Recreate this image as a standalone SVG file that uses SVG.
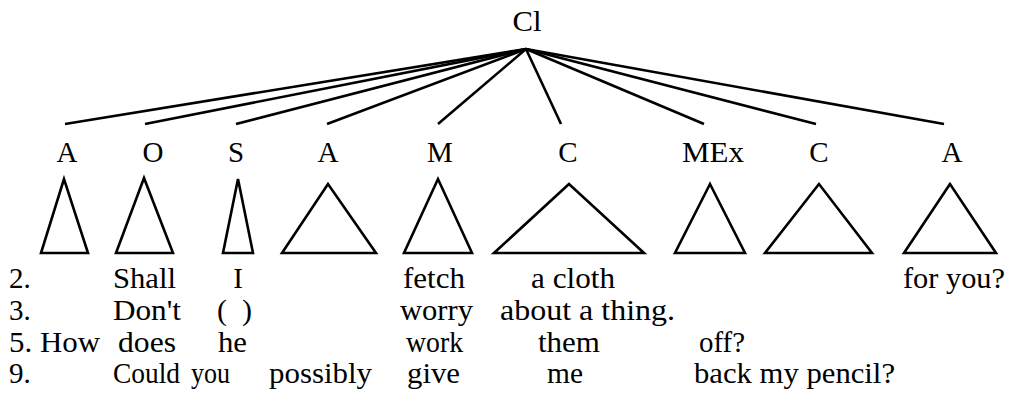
<svg xmlns="http://www.w3.org/2000/svg" width="1012" height="394" viewBox="0 0 1012 394">
<style>
text{font-family:'Liberation Serif','Times New Roman',serif;font-size:29px;fill:#000}
.lbl{text-anchor:middle}
.edge{stroke:#000;stroke-width:2.6;fill:none}
.tri{stroke:#000;stroke-width:2.6;fill:none;stroke-linejoin:miter}
</style>
<rect width="1012" height="394" fill="#fff"/>
<g id="node-Cl"><text class="lbl" x="527" y="31" textLength="29" lengthAdjust="spacingAndGlyphs">Cl</text></g>
<g id="connectors">
<line class="edge" x1="526" y1="49" x2="65" y2="124"/>
<line class="edge" x1="526" y1="49" x2="145" y2="124"/>
<line class="edge" x1="526" y1="49" x2="236" y2="124"/>
<line class="edge" x1="526" y1="49" x2="327" y2="124"/>
<line class="edge" x1="526" y1="49" x2="438" y2="124"/>
<line class="edge" x1="526" y1="49" x2="561" y2="124"/>
<line class="edge" x1="526" y1="49" x2="704" y2="124"/>
<line class="edge" x1="526" y1="49" x2="816" y2="124"/>
<line class="edge" x1="526" y1="49" x2="944" y2="124"/>
</g>
<g id="node-A1"><text class="lbl" x="67" y="162">A</text><polygon class="tri" points="64,179 41,253 88,253"/></g>
<g id="node-O"><text class="lbl" x="153" y="162">O</text><polygon class="tri" points="144,178 116,253 173,253"/></g>
<g id="node-S"><text class="lbl" x="236" y="162">S</text><polygon class="tri" points="238,179 223,253 253,253"/></g>
<g id="node-A2"><text class="lbl" x="328" y="162">A</text><polygon class="tri" points="328,184 282,253 376,253"/></g>
<g id="node-M"><text class="lbl" x="440" y="162">M</text><polygon class="tri" points="438,179 404,253 472,253"/></g>
<g id="node-C1"><text class="lbl" x="568" y="162">C</text><polygon class="tri" points="569,184 494,253 644,253"/></g>
<g id="node-MEx"><text class="lbl" x="713" y="162" textLength="62" lengthAdjust="spacingAndGlyphs">MEx</text><polygon class="tri" points="710,184 675,253 745,253"/></g>
<g id="node-C2"><text class="lbl" x="819" y="162">C</text><polygon class="tri" points="819,184 765,253 872,253"/></g>
<g id="node-A3"><text class="lbl" x="952" y="162">A</text><polygon class="tri" points="950,184 904,253 996,253"/></g>
<g id="examples">
<text x="9" y="288">2.</text>
<text x="113" y="288" textLength="63" lengthAdjust="spacingAndGlyphs">Shall</text>
<text class="lbl" x="238" y="288">I</text>
<text x="403" y="288" textLength="62" lengthAdjust="spacingAndGlyphs">fetch</text>
<text x="531" y="288" textLength="84" lengthAdjust="spacingAndGlyphs">a cloth</text>
<text x="903" y="288" textLength="102" lengthAdjust="spacingAndGlyphs">for you?</text>
<text x="9" y="320">3.</text>
<text x="113" y="320" textLength="68" lengthAdjust="spacingAndGlyphs">Don't</text>
<text x="217" y="320" xml:space="preserve" textLength="35" lengthAdjust="spacingAndGlyphs">(  )</text>
<text x="400" y="320" textLength="73" lengthAdjust="spacingAndGlyphs">worry</text>
<text x="500" y="320" textLength="175" lengthAdjust="spacingAndGlyphs">about a thing.</text>
<text x="9" y="352" textLength="91" lengthAdjust="spacingAndGlyphs">5. How</text>
<text x="118" y="352" textLength="58" lengthAdjust="spacingAndGlyphs">does</text>
<text x="218" y="352" textLength="29" lengthAdjust="spacingAndGlyphs">he</text>
<text x="406" y="352" textLength="57" lengthAdjust="spacingAndGlyphs">work</text>
<text x="538" y="352" textLength="62" lengthAdjust="spacingAndGlyphs">them</text>
<text x="699" y="352" textLength="46" lengthAdjust="spacingAndGlyphs">off?</text>
<text x="9" y="383">9.</text>
<text x="113" y="383" textLength="67" lengthAdjust="spacingAndGlyphs">Could</text>
<text x="191" y="383" textLength="39" lengthAdjust="spacingAndGlyphs">you</text>
<text x="269" y="383" textLength="103" lengthAdjust="spacingAndGlyphs">possibly</text>
<text x="407" y="383" textLength="53" lengthAdjust="spacingAndGlyphs">give</text>
<text x="547" y="383" textLength="36" lengthAdjust="spacingAndGlyphs">me</text>
<text x="694" y="383" textLength="201" lengthAdjust="spacingAndGlyphs">back my pencil?</text>
</g>
</svg>
